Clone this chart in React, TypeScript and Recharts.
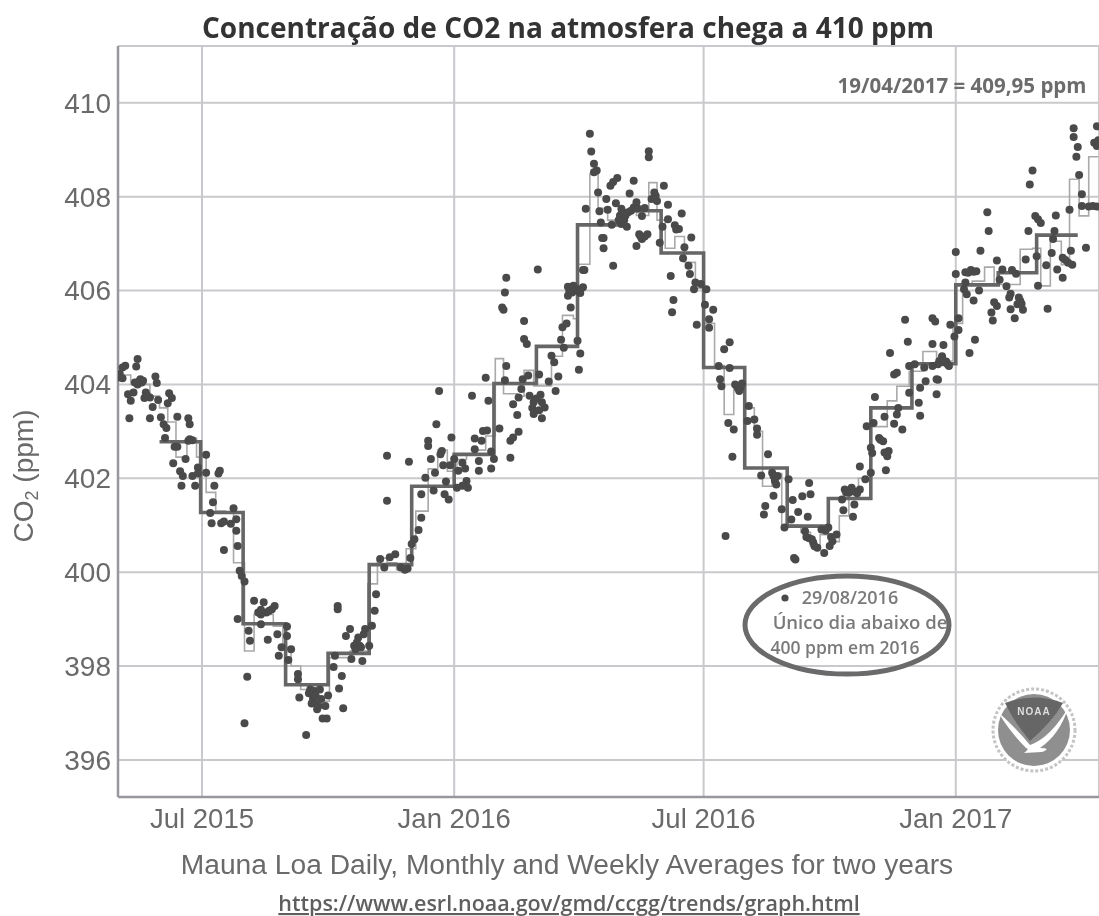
import * as React from "react";
import {
  ComposedChart,
  CartesianGrid,
  Line,
  Scatter,
  XAxis,
  YAxis,
} from "recharts";

// days are counted from 1 Jul 2015
const tickDays = [0, 184, 366, 550];
const tickLabels = ["Jul 2015", "Jan 2016", "Jul 2016", "Jan 2017"];
const ppmTicks = [396, 398, 400, 402, 404, 406, 408, 410];

const monthlyDays = [-31, -1, 30, 61, 92, 122, 153, 184, 213, 244, 274, 305, 335, 366, 396, 427, 457, 488, 518, 550, 581, 609, 639];
const monthlyPpm = [402.78, 401.27, 398.9, 397.6, 398.27, 400.16, 401.83, 402.51, 404.02, 404.81, 407.4, 407.7, 406.8, 404.36, 402.22, 400.98, 401.57, 403.5, 404.44, 406.12, 406.38, 407.18, 407.18];

const weeklyDays = [-59, -52, -45, -38, -31, -25, -19, -11, -4, 3, 10, 17, 23, 31, 38, 52, 59, 65, 72, 79, 93, 108, 121, 128, 135, 142, 149, 156, 165, 172, 179, 186, 193, 200, 207, 214, 220, 230, 235, 242, 255, 263, 271, 274, 283, 289, 296, 303, 310, 317, 326, 332, 338, 345, 352, 360, 366, 374, 381, 388, 396, 403, 409, 416, 423, 437, 444, 451, 458, 465, 472, 479, 488, 500, 507, 516, 526, 536, 548, 555, 562, 571, 578, 597, 606, 612, 619, 627, 633, 640, 647, 654];
const weeklyPpm = [404.2, 404, 404, 403.75, 403.5, 403.2, 402.45, 402.85, 402.45, 401.7, 401.3, 401.28, 400.2, 398.32, 399.1, 398.85, 398.4, 398, 397.5, 397.25, 398.18, 398.32, 399.75, 400.3, 400.2, 400.05, 400.5, 401.3, 402.2, 402.6, 402.15, 402.4, 402.5, 402.6, 402.9, 404.55, 403.8, 403.75, 404.3, 403.97, 404.6, 405.47, 405.4, 406.56, 408.48, 407.75, 407.5, 407.6, 407.7, 407.6, 408.3, 407.5, 406.9, 407.15, 406.6, 406.05, 405.3, 404.4, 403.36, 404, 403.5, 403, 401.83, 402.1, 401, 400.85, 400.55, 400.8, 400.65, 401.2, 401.75, 402, 403.1, 403.65, 403.96, 404.28, 404.7, 404.5, 405.3, 406.13, 406.2, 406.5, 406.13, 406.88, 406.9, 406.1, 407.05, 406.55, 408.37, 407.59, 408.85, 408.85];

// [day, ppm]
const dailyObs: [number, number][] = [
  [-61, 404.15], [-60, 404.22], [-47, 404.54], [-56, 404.4], [-58, 404.36], [-48, 404.38], [-58, 404.13], [-45, 404.11], [-49, 404.04], [-44, 404.04], [-47, 404], [-34, 404.17], [-33, 404.03], [-54, 403.79], [-50, 403.83], [-52, 403.65], [-41, 403.83], [-42, 403.71], [-38, 403.72], [-32, 403.67], [-24, 403.81], [-22, 403.71], [-25, 403.6], [-36, 403.52], [-53, 403.28], [-38, 403.28], [-30, 403.3], [-28, 403.15], [-26, 403.07], [-18, 403.31], [-10, 403.28], [-9, 403.15], [-27, 402.86], [-9, 402.83], [-7, 402.81], [-10, 402.8], [-20, 402.67], [-18, 402.67], [-12, 402.41], [-21, 402.32], [3, 402.5], [-3, 402.23], [13, 402.16], [12, 402.1], [3, 402.12], [-16, 402.15], [-14, 402.05], [-7, 402.05], [-3, 402.1], [-15, 401.84], [-5, 401.84], [9, 401.84], [8, 401.49], [23, 401.36], [6, 401.26], [7, 401.04], [14, 401.04], [16, 401.08], [21, 401.03], [25, 401.13], [25, 400.88], [26, 400.56], [16, 400.47], [27.5, 400.03], [29, 399.92], [31, 399.8],
  [26, 399], [38, 399.39], [45, 399.36], [53, 399.28], [51, 399.21], [47, 399.14], [43, 399.1], [41, 399.14], [43, 398.89], [34, 398.75], [35, 398.54], [33, 397.77], [31, 396.78], [48, 398.56], [55, 398.68], [62, 398.64], [62, 398.84], [58, 398.4], [65, 398.36], [56, 398.22], [63, 398.13], [70, 397.83], [70, 397.72], [71, 397.33], [79, 397.5], [82, 397.47], [86, 397.5], [81, 397.3], [85, 397.15], [82, 397.22], [92, 397.37], [90, 397.15], [88, 396.88], [91, 396.88], [76, 396.53], [103, 397.1], [100, 397.52], [102, 397.79], [96, 397.98], [99, 399.28], [99, 399.21], [97, 398.22], [105, 398.64], [108, 398.79], [114, 398.61], [118, 398.68], [109, 398.15], [117, 398.11], [111, 398.43], [115, 398.43], [122, 398.43], [119, 398.79], [124, 398.86], [127, 399.53], [126, 399.18], [130, 400.28],
  [133, 400.1], [137, 400.32], [141, 400.38], [145, 400.1], [148, 400.05], [150, 400.08], [152, 400.3], [153, 400.6], [155, 400.7], [158, 400.9], [160, 401.16], [135, 401.52], [160, 401.66], [177, 401.66], [180, 401.55], [169, 401.74], [163, 402.01], [178, 401.93], [170, 402.12], [186, 401.8], [193, 401.94], [190, 401.84], [194, 401.8], [151, 402.35], [135, 402.48], [167, 402.41], [175, 402.58], [174, 402.51], [165, 402.69], [165, 402.8], [171, 403.15], [173, 403.86], [182, 402.87], [184, 402.41], [176, 402.28], [181, 402.28], [187, 402.16], [192, 402.21], [190, 402.33], [202, 402.37], [202, 402.16], [211, 402.21], [199, 402.62], [199, 402.85], [204, 402.8], [205, 403.01], [208, 403.02], [211, 402.57], [213, 402.41], [217, 403.06], [225, 402.44], [225, 402.8], [227, 402.87], [231, 402.99], [197, 403.76], [207, 404.14], [209, 403.65], [221, 404.09], [222, 404.39], [230, 403.35], [227, 403.58], [231, 403.72], [233, 403.9], [234, 404.11], [238, 404.19], [246, 404.21], [239, 403.76], [242, 403.62], [242, 403.37], [247, 403.78], [248, 403.28], [250, 403.51], [248, 403.62], [253, 404.06], [260, 404.17], [258, 403.86], [255, 404.61], [257, 404.47], [235, 405.35], [235, 404.97], [237, 404.86], [262, 404.95], [264, 404.78], [274, 404.93], [276, 404.66], [275, 404.31], [263, 405.22], [266, 405.3], [269, 405.64], [267, 405.89], [267, 406.08], [273, 406], [278, 406.07], [270, 405.96], [274, 406.03], [279, 406.44], [245, 406.45], [222, 406.27], [221, 405.96], [219, 405.64], [220, 405.59],
  [283, 409.34], [284, 408.96], [286, 408.7], [288, 408.56], [286, 408.52], [289, 408.09], [280, 407.74], [295, 407.95], [290, 407.69], [296, 407.72], [291, 407.45], [298, 408.23], [300, 408.31], [303, 408.4], [315, 408.34], [312, 408.07], [302, 407.86], [306, 407.74], [299, 407.4], [306, 407.42], [310, 407.36], [305, 407.6], [311, 407.67], [315, 407.77], [317, 407.88], [323, 407.76], [321, 407.59], [292, 407.12], [293, 407.12], [293, 406.9], [300, 406.53], [278, 406.44], [319, 407.2], [325, 407.2], [321, 407.1], [317, 406.95], [326, 408.97], [326, 408.84], [330, 408.09], [328, 407.95], [332, 407.91], [337, 408.23], [340, 407.83], [350, 407.64], [340, 407.52], [336, 407.36], [345, 407.39], [348, 407.31], [357, 407.13], [334, 407.02], [352, 406.92], [351, 406.69], [355, 406.53], [356, 406.35], [342, 406.31], [344, 405.8], [343, 405.54], [360, 406.17], [364, 406.14], [359, 406.03], [368, 406.03], [367, 405.7], [373, 405.59], [370, 405.39], [370, 405.21], [361, 405.27], [385, 404.9], [381, 404.75], [377, 404.39], [385, 404.35], [378, 404.11], [379, 403.96], [389, 404], [393, 403.93], [392, 403.86],
  [384, 403.18], [388, 403.04], [387, 402.46], [399, 403.54], [398, 403.22], [403, 403.25], [405, 403.06], [405, 402.93], [413, 402.51], [382, 400.77], [408, 402.06], [416, 402.12], [420, 402.05], [419, 401.87], [428, 401.98], [417, 401.63], [411, 401.41], [410, 401.23], [423, 401.34], [431, 401.54], [438, 401.62], [444, 401.66], [443, 401.9], [435, 401.28], [442, 401.18], [425, 400.95], [430, 401.12], [433, 400.27], [432, 400.3], [440, 400.87], [446, 400.63], [449, 400.52], [454, 400.41], [452, 400.91], [457, 400.95], [463, 400.8], [460, 400.66], [458, 400.56], [468, 401.32], [475, 401.18], [476, 401.44], [469, 401.76], [474, 401.8], [480, 401.76], [472, 401.69], [467, 401.55], [484, 401.98], [480, 402.25], [488, 402.12], [488, 402.65], [489, 402.54], [485, 403.11], [490, 403.18], [491, 403.73], [498, 403.31], [494, 402.86], [497, 402.79], [501, 402.58], [500, 402.47], [499, 402.17], [505, 403.16], [511, 403.04], [508, 403.5], [507, 403.36], [523, 403.61], [524, 403.33], [516, 403.82], [528, 404.07], [524, 403.93], [536, 404.11], [536, 403.79], [505, 404.21], [507, 404.25], [502, 404.67], [516, 404.39], [520, 404.43], [527, 404.36], [533, 404.39], [540, 404.57], [544, 404.43],
  [515, 404.91], [513, 405.38], [533, 405.41], [535, 405.34], [533, 404.86], [541, 404.84], [540, 404.6], [543, 404.49], [545, 404.39], [537, 404.43], [537, 404.1], [546, 405.27], [552, 405.41], [552, 405.16], [549, 405.02], [550, 406.82], [550, 406.35], [557, 406.39], [561, 406.44], [565, 406.41], [557, 406.17], [556, 406.03], [558, 405.92], [567, 406], [563, 405.79], [564, 404.95], [560, 404.67], [568, 406.85], [573, 407.67], [574, 407.27], [580, 406.64], [584, 406.45], [591, 406.44], [594, 406.36], [582, 406.23], [587, 406.09], [590, 405.93], [589, 405.85], [578, 405.75], [580, 405.67], [576, 405.53], [577, 405.36], [590, 405.6], [593, 405.41], [597, 405.78], [595, 405.71], [599, 405.59], [604, 408.26], [606, 408.56], [601, 406.66], [603, 407.27], [608, 407.59], [610, 407.52], [612, 407.44], [623, 407.6], [622, 407.27], [621, 407.1], [609, 406.73], [620, 406.8], [616, 406.54], [624, 406.45], [610, 406.1], [628, 406.27], [617, 405.61], [628, 406.7], [632, 406.59], [635, 406.55], [634, 406.85], [645, 406.91], [633, 407.72], [640, 408.46], [638, 408.85], [639, 409.06], [636, 409.27], [636, 409.46], [642, 408.05], [642, 407.8], [647, 407.79], [653, 407.79], [651, 409.15], [653, 409.08], [653, 409.5],
  // the dense clumps, where single dots merge into blobs
  [-46, 404.06], [-43, 404.08], [-40, 403.76], [43, 399.2], [49, 399.18], [78, 397.42], [80, 397.2], [83, 397.36], [84, 397.08], [87, 397.3], [112, 398.36], [116, 398.4], [113, 398.5], [241, 403.5], [244, 403.7], [246, 403.45], [268, 405.98], [271, 406.1], [276, 405.95], [304, 407.5], [308, 407.5], [309, 407.6], [313, 407.7], [318, 407.75], [320, 407.15], [323, 407.15], [331, 408.02], [346, 407.3], [391, 403.92], [394, 404.02], [417, 402.05], [418, 401.95], [441, 400.75], [443, 400.72], [445, 400.7], [447, 400.55], [455, 400.88], [459, 400.75], [470, 401.7], [473, 401.75], [476, 401.72], [478, 401.68], [495, 402.82], [498, 402.55], [538, 404.5], [541, 404.47], [559, 406.38], [563, 406.4], [596, 405.85], [598, 405.72], [630, 406.65], [650, 407.8], [654, 409.2],
];

const dailyData = dailyObs.map(([day, ppm]) => ({ day, ppm }));
const monthlyData = monthlyDays.map((day, i) => ({ day, ppm: monthlyPpm[i] }));
const weeklyData = weeklyDays.map((day, i) => ({ day, ppm: weeklyPpm[i] }));

const GRID = "#c9c9cd";
const AXIS = "#97989d";
const TICK = "#6a6a6a";
const DOT = "#4a4a4a";
const ARIAL = "'Liberation Sans', Arial, sans-serif";
const OPEN = "'Open Sans', 'Noto Sans', sans-serif";

const dayLabel = (day: number) => tickLabels[tickDays.indexOf(day)] ?? "";

const DailyDot = (props: { cx?: number; cy?: number }) => (
  <circle cx={props.cx} cy={props.cy} r={4} fill={DOT} />
);

function NoaaLogo() {
  return (
    <g>
      <circle cx={1034} cy={730} r={41} fill="#fff" stroke="#c4c4c4" strokeWidth={3} strokeDasharray="3 2" />
      <circle cx={1034} cy={730} r={36} fill="#8f8f8f" />
      <path d="M1005 703 Q1034 692 1063 703 Q1052 722 1030 741 Q1014 722 1005 703 Z" fill="#666666" />
      <path d="M998 712 Q1018 730 1030 745 Q1050 738 1068 708 Q1060 734 1040 748 Q1052 748 1042 752 L1024 753 Q1030 749 1026 748 Q1010 732 998 712 Z" fill="#fff" />
      <text x={1034} y={715} textAnchor="middle" fontFamily={ARIAL} fontSize={10} fontWeight={700} fill="#dedede" letterSpacing={1}>
        NOAA
      </text>
    </g>
  );
}

export default function App() {
  return (
    <div style={{ position: "absolute", left: 0, top: 0, width: 1099, height: 916, background: "#fff", overflow: "hidden", filter: "blur(0.6px)" }}>
      <ComposedChart
        width={1099}
        height={916}
        margin={{ top: 46, right: 0, bottom: 59, left: 58 }}
      >
        <CartesianGrid stroke={GRID} strokeWidth={2} />
        <XAxis
          type="number"
          dataKey="day"
          domain={[-61.3, 654.5]}
          allowDataOverflow
          ticks={tickDays}
          tickFormatter={dayLabel}
          interval={0}
          height={60}
          tick={{ fill: TICK, fontSize: 27.5, fontFamily: ARIAL }}
          tickLine={false}
          tickMargin={5}
          axisLine={{ stroke: AXIS, strokeWidth: 2.5 }}
        />
        <YAxis
          type="number"
          domain={[395.21, 411.21]}
          allowDataOverflow
          ticks={ppmTicks}
          interval={0}
          width={60}
          tick={{ fill: TICK, fontSize: 28, fontFamily: ARIAL }}
          tickLine={false}
          tickMargin={1}
          axisLine={{ stroke: AXIS, strokeWidth: 2.5 }}
        />
        <Line data={weeklyData} dataKey="ppm" type="stepAfter" stroke="#a9a9a9" strokeWidth={1.6} dot={false} legendType="none" isAnimationActive={false} />
        <Line data={monthlyData} dataKey="ppm" type="stepAfter" stroke="#666666" strokeWidth={3.6} dot={false} legendType="none" isAnimationActive={false} />
        <Scatter data={dailyData} dataKey="ppm" shape={<DailyDot />} isAnimationActive={false} />
      </ComposedChart>

      <svg width={1099} height={916} style={{ position: "absolute", left: 0, top: 0, pointerEvents: "none" }}>
        <text x={568} y={38} textAnchor="middle" fontFamily={OPEN} fontWeight={700} fontSize={28} fill="#333">
          Concentração de CO2 na atmosfera chega a 410 ppm
        </text>
        <text x={962} y={93} textAnchor="middle" fontFamily={OPEN} fontWeight={700} fontSize={20.5} fill="#6c6c6c">
          19/04/2017 = 409,95 ppm
        </text>
        <text transform="translate(33 476) rotate(-90)" textAnchor="middle" fontFamily={ARIAL} fontSize={28} fill={TICK}>
          CO<tspan fontSize={18} dy={5}>2</tspan><tspan dy={-5}> (ppm)</tspan>
        </text>
        <text x={567} y={874} textAnchor="middle" fontFamily={ARIAL} fontSize={28.2} fill={TICK}>
          Mauna Loa Daily, Monthly and Weekly Averages for two years
        </text>
        <text x={569} y={911} textAnchor="middle" fontFamily={OPEN} fontWeight={600} fontSize={21.5} fill="#5f5f5f" textDecoration="underline">
          https://www.esrl.noaa.gov/gmd/ccgg/trends/graph.html
        </text>

        <ellipse cx={847} cy={625} rx={102} ry={49} fill="none" stroke="#6a6a6a" strokeWidth={5} />
        <circle cx={785} cy={598} r={3.6} fill={DOT} />
        <g fontFamily={OPEN} fontWeight={600} fill="#7a7a7a" textAnchor="middle">
          <text x={850} y={604} fontSize={18}>29/08/2016</text>
          <text x={860} y={629} fontSize={18.5}>Único dia abaixo de</text>
          <text x={845} y={654} fontSize={17.5}>400 ppm em 2016</text>
        </g>
        <NoaaLogo />
      </svg>
    </div>
  );
}
